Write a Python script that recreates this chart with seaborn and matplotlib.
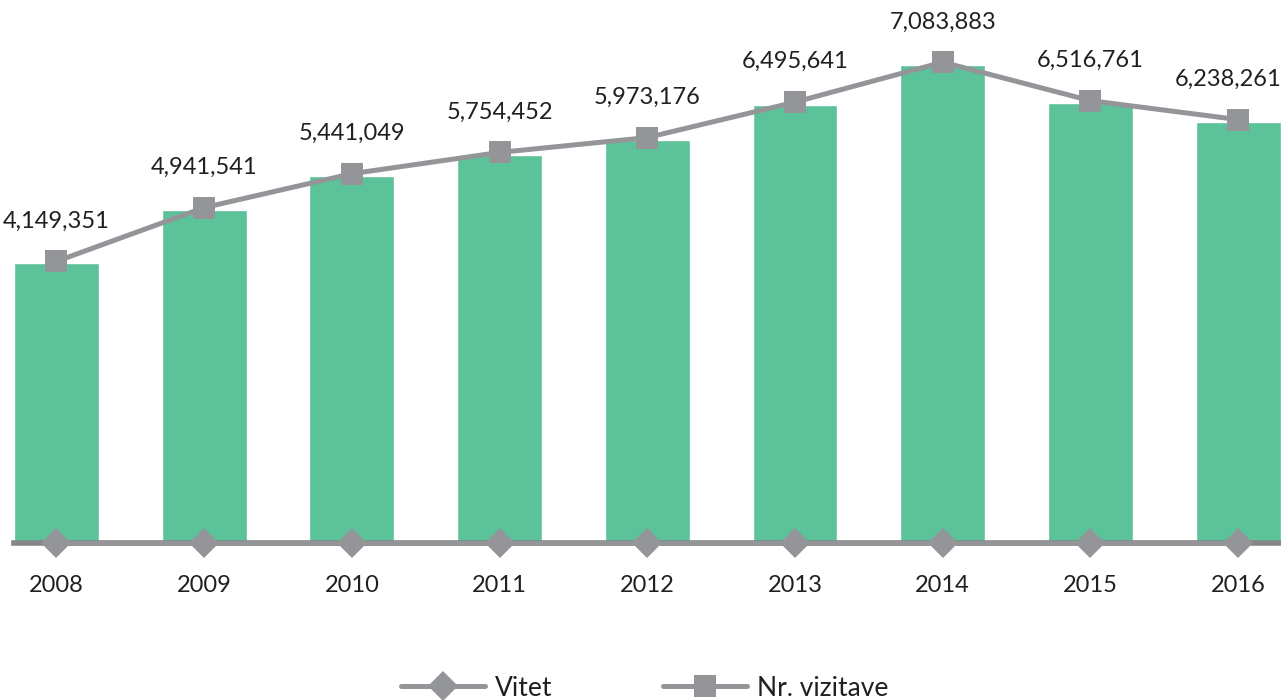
import matplotlib
matplotlib.use("Agg")
import matplotlib.pyplot as plt
import seaborn as sns
import numpy as np
import pandas as pd
from matplotlib.lines import Line2D

years = ["2008", "2009", "2010", "2011", "2012", "2013", "2014", "2015", "2016"]
vitet = [2008, 2009, 2010, 2011, 2012, 2013, 2014, 2015, 2016]
visits = [4149351, 4941541, 5441049, 5754452, 5973176, 6495641, 7083883, 6516761, 6238261]

GREEN = "#5BC29A"
GRAY = "#939598"
AXIS_GRAY = "#858585"
TEXT = "#231F20"

sns.set_theme(style="white")
plt.rcParams["font.family"] = ["Lato", "DejaVu Sans"]

fig = plt.figure(figsize=(12.81, 7.0), dpi=100)
ax = fig.add_axes([14 / 1281, 157 / 700, 1 - 14 / 1281, 543 / 700])

df = pd.DataFrame({"Viti": years, "Vizita": visits})
sns.barplot(data=df, x="Viti", y="Vizita", color=GREEN, width=0.575,
            saturation=1, ax=ax, zorder=2)

ax.set_xlim(-0.2875, 8.29)
ax.set_ylim(0, 8.05e6)
ax.set_xlabel("")
ax.set_ylabel("")
ax.set_yticks([])
for s in ["top", "right", "left"]:
    ax.spines[s].set_visible(False)
ax.spines["bottom"].set_color(AXIS_GRAY)
ax.spines["bottom"].set_linewidth(4)
ax.spines["bottom"].set_zorder(3)
ax.tick_params(axis="x", length=0, pad=23, labelsize=17, labelcolor=TEXT)

ax2 = ax.twinx()
pos = np.arange(len(years))
sns.lineplot(x=pos, y=visits, ax=ax2, color=GRAY, linewidth=3.6, marker="s",
             markersize=15.5, markeredgewidth=0, zorder=4)
sns.lineplot(x=pos, y=vitet, ax=ax2, color=GRAY, linewidth=3.6, marker="D",
             markersize=15, markeredgewidth=0, zorder=4)
for l in ax2.lines:
    l.set_clip_on(False)
ax2.set_ylim(0, 8.0e6)
ax2.set_yticks([])
for s in ["top", "right", "left", "bottom"]:
    ax2.spines[s].set_visible(False)

for i, v in enumerate(visits):
    dx = -7 if i == len(visits) - 1 else 0
    ax2.annotate(f"{v:,}", (i, v), xytext=(dx, 29), textcoords="offset points",
                 ha="center", va="center", fontsize=17, color=TEXT,
                 annotation_clip=False)

handles = [
    Line2D([], [], color=GRAY, linewidth=3.6, marker="D", markersize=15,
           markeredgewidth=0),
    Line2D([], [], color=GRAY, linewidth=3.6, marker="s", markersize=15.5,
           markeredgewidth=0),
]
fig.legend(handles, ["Vitet", "Nr. vizitave"], loc="center",
           bbox_to_anchor=(0.503, 0.017), ncol=2, frameon=False,
           fontsize=19, handlelength=3.2, handletextpad=0.35,
           columnspacing=4.2, labelcolor=TEXT)

fig.savefig("out.png", dpi=100)
